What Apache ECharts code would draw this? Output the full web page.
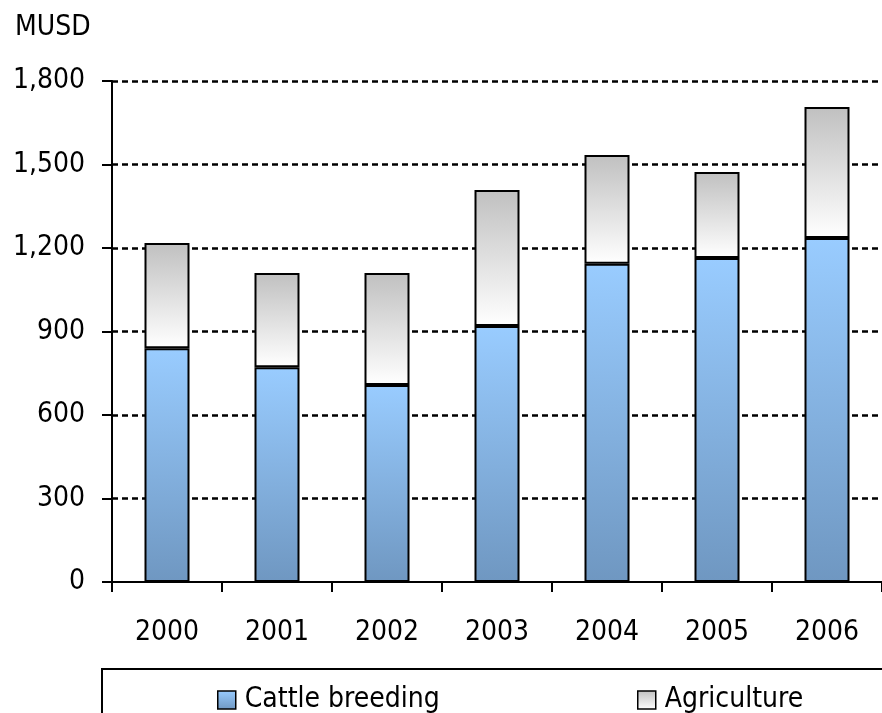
<!DOCTYPE html>
<html>
<head>
<meta charset="utf-8">
<script src="https://cdn.jsdelivr.net/npm/echarts@6/dist/echarts.min.js"></script>
<style>
  html, body { margin: 0; padding: 0; background: #fff; }
  #chart { width: 882px; height: 713px; }
</style>
</head>
<body>
<div id="chart"></div>
<script>
// 数据
const years = ['2000', '2001', '2002', '2003', '2004', '2005', '2006']
const cattle = [840, 772, 708, 920, 1143, 1164, 1236]
const agriculture = [378, 338, 402, 488, 391, 309, 471]
const yTicks = { min: 0, max: 1800, step: 300 }

const FONT = "'Liberation Sans Narrow', 'Arial Narrow', 'DejaVu Sans Condensed', sans-serif"
const FS = 28

const blueGrad = new echarts.graphic.LinearGradient(0, 0, 0, 1, [
  { offset: 0, color: '#99CCFF' },
  { offset: 1, color: '#6F97C1' }
])
const greyGrad = new echarts.graphic.LinearGradient(0, 0, 0, 1, [
  { offset: 0, color: '#C0C0C0' },
  { offset: 1, color: '#FFFFFF' }
])

const chart = echarts.init(document.getElementById('chart'))

const legendBase = {
  top: 681,
  icon: 'rect',
  itemWidth: 18,
  itemHeight: 18,
  itemStyle: { borderColor: '#000', borderWidth: 1.5 },
  textStyle: { fontFamily: FONT, fontSize: FS, color: '#000', padding: [0, 0, 0, 4] }
}

const option = {
  animation: false,
  textStyle: { fontFamily: FONT },
  title: {
    text: 'MUSD',
    left: 10,
    top: 9,
    textStyle: { fontFamily: FONT, fontSize: FS, fontWeight: 'normal', color: '#000' }
  },
  legend: [
    Object.assign({ data: ['Cattle breeding'], left: 212 }, legendBase),
    Object.assign({ data: ['Agriculture'], left: 632 }, legendBase)
  ],
  graphic: [
    {
      type: 'rect',
      shape: { x: 102, y: 669, width: 800, height: 60 },
      style: { fill: 'none', stroke: '#000', lineWidth: 2 },
      silent: true,
      z: 0
    }
  ],
  grid: {
    left: 112,
    right: -7,
    top: 81,
    bottom: 131,
    containLabel: false
  },
  xAxis: {
    type: 'category',
    data: years,
    z: 5,
    axisLine: { lineStyle: { color: '#000', width: 2 } },
    axisTick: { show: true, length: 10, inside: false, lineStyle: { color: '#000', width: 2 } },
    axisLabel: { fontFamily: FONT, fontSize: FS, color: '#000', margin: 37 }
  },
  yAxis: {
    type: 'value',
    min: yTicks.min,
    max: yTicks.max,
    interval: yTicks.step,
    axisLine: { show: true, lineStyle: { color: '#000', width: 2 } },
    axisTick: { show: true, length: 10, lineStyle: { color: '#000', width: 2 } },
    axisLabel: {
      fontFamily: FONT,
      fontSize: FS,
      color: '#000',
      margin: 27,
      formatter: v => v.toLocaleString('en-US')
    },
    splitLine: { show: true, showMinLine: false, lineStyle: { color: '#000', width: 2.5, type: [6, 4] } }
  },
  series: [
    {
      name: 'Cattle breeding',
      type: 'bar',
      stack: 'total',
      data: cattle,
      barWidth: 45,
      itemStyle: { color: blueGrad, borderColor: '#000', borderWidth: 2 }
    },
    {
      name: 'Agriculture',
      type: 'bar',
      stack: 'total',
      data: agriculture,
      barWidth: 45,
      itemStyle: { color: greyGrad, borderColor: '#000', borderWidth: 2 }
    }
  ]
}

chart.setOption(option)
</script>
</body>
</html>
